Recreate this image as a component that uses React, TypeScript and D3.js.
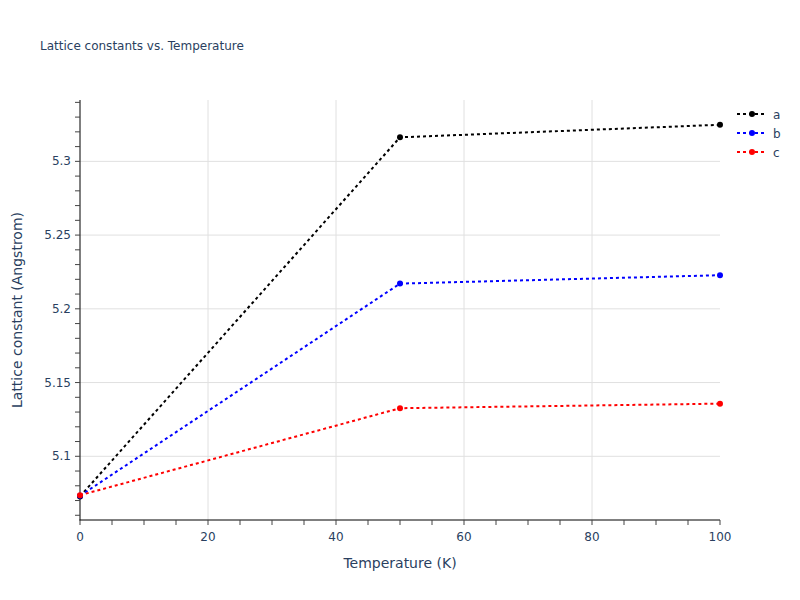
import React from "react";
import * as d3 from "d3";

const temperatures = [0, 50, 100];
const seriesNames = ["a", "b", "c"];
const aValues = [5.0728, 5.3163, 5.3248];
const bValues = [5.0732, 5.2171, 5.2228];
const cValues = [5.0736, 5.1326, 5.1357];
const seriesValues = [aValues, bValues, cValues];
const seriesColors = ["black", "blue", "red"];
const xTicks = [0, 20, 40, 60, 80, 100];
const yTicks = [5.1, 5.15, 5.2, 5.25, 5.3];
const yTickLabels = ["5.1", "5.15", "5.2", "5.25", "5.3"];

const W = 800, H = 600;
const L = 80, R = 720, T = 100, B = 520;
const FONT = "'DejaVu Sans', Verdana, sans-serif";
const TXT = "#2a3f5f";

export default function App() {
  const x = d3.scaleLinear().domain([0, 100]).range([L, R]);
  const y = d3.scaleLinear().domain([5.0568, 5.3416]).range([B, T]);
  const line = d3.line<number>().x((_, i) => x(temperatures[i])).y((d) => y(d));
  const minorX = d3.range(0, 101, 5);
  const minorY = d3.range(5.06, 5.3401, 0.01);

  return (
    <svg width={W} height={H} style={{ position: "absolute", left: 0, top: 0, background: "white" }}>
      <rect width={W} height={H} fill="white" />
      <text x={40} y={50} fontFamily={FONT} fontSize={12} fill={TXT}>Lattice constants vs. Temperature</text>
      {/* gridlines */}
      {xTicks.filter((t) => t > 0 && t < 100).map((t) => (
        <line key={"gx" + t} x1={x(t)} x2={x(t)} y1={T} y2={B} stroke="#e0e0e0" strokeWidth={1} />
      ))}
      {yTicks.map((t) => (
        <line key={"gy" + t} x1={L} x2={R} y1={y(t)} y2={y(t)} stroke="#e0e0e0" strokeWidth={1} />
      ))}
      {/* axes */}
      <line x1={L} x2={L} y1={T} y2={B + 0.5} stroke="#000" strokeWidth={1} />
      <line x1={L - 0.5} x2={R} y1={B} y2={B} stroke="#000" strokeWidth={1} />
      {minorX.map((t) => (
        <line key={"tx" + t} x1={x(t)} x2={x(t)} y1={B} y2={B + 5} stroke="#444" strokeWidth={1} />
      ))}
      {minorY.map((t) => (
        <line key={"ty" + t.toFixed(2)} x1={L - 5} x2={L} y1={y(t)} y2={y(t)} stroke="#444" strokeWidth={1} />
      ))}
      {xTicks.map((t) => (
        <text key={"lx" + t} x={x(t)} y={541} textAnchor="middle" fontFamily={FONT} fontSize={12} fill={TXT}>{t}</text>
      ))}
      {yTicks.map((t, i) => (
        <text key={"ly" + t} x={71} y={y(t) + 4} textAnchor="end" fontFamily={FONT} fontSize={12} fill={TXT}>{yTickLabels[i]}</text>
      ))}
      <text x={(L + R) / 2} y={568} textAnchor="middle" fontFamily={FONT} fontSize={14} fill={TXT}>Temperature (K)</text>
      <text transform={`translate(22,${(T + B) / 2}) rotate(-90)`} textAnchor="middle" fontFamily={FONT} fontSize={14} fill={TXT}>Lattice constant (Angstrom)</text>
      {/* series */}
      {seriesValues.map((vals, si) => (
        <g key={"s" + si}>
          <path d={line(vals) || ""} fill="none" stroke={seriesColors[si]} strokeWidth={2} strokeDasharray="3,3" />
          {vals.map((v, i) => (
            <circle key={i} cx={x(temperatures[i])} cy={y(v)} r={3} fill={seriesColors[si]} />
          ))}
        </g>
      ))}
      {/* legend */}
      {seriesNames.map((n, i) => (
        <g key={"lg" + n} transform={`translate(0,${114 + i * 19})`}>
          <line x1={737} x2={767} y1={0} y2={0} stroke={seriesColors[i]} strokeWidth={2} strokeDasharray="3,3" />
          <circle cx={752} cy={0} r={3} fill={seriesColors[i]} />
          <text x={773} y={4.5} fontFamily={FONT} fontSize={12} fill={TXT}>{n}</text>
        </g>
      ))}
    </svg>
  );
}
